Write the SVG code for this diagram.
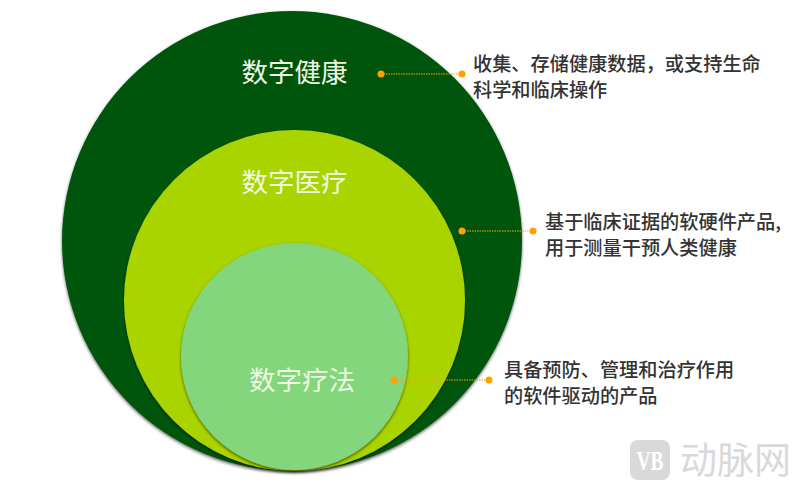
<svg xmlns="http://www.w3.org/2000/svg" width="800" height="490" viewBox="0 0 800 490">
<style>
.t{font-family:"Noto Sans CJK SC","Noto Sans",sans-serif;}
.c{font-size:19.2px;fill:#333;font-weight:500;}
.h{font-size:26.500px;fill:#eef7e2;}
.dot{fill:#ffa200;}
.ln{stroke:#ffa200;stroke-width:1;stroke-dasharray:1.5 1;fill:none;}
</style>
<defs>
<filter id="s" x="-10%" y="-10%" width="120%" height="120%"><feDropShadow dx="0" dy="1.5" stdDeviation="1.8" flood-color="#000" flood-opacity=".6"/></filter>
</defs>
<rect width="800" height="490" fill="#fff"/>
<g id="node-digital-health">
<circle cx="292" cy="241" r="230" fill="#03540b" filter="url(#s)"/>
<text class="t h" x="294.500" y="82" text-anchor="middle">数字健康</text>
</g>
<g id="node-digital-medicine">
<circle cx="294.500" cy="300.500" r="170.500" fill="#aad400" filter="url(#s)"/>
<text class="t h" x="294.500" y="192" text-anchor="middle">数字医疗</text>
</g>
<g id="node-digital-therapeutics">
<circle cx="294.500" cy="356.500" r="113.500" fill="#83d67c" filter="url(#s)"/>
<text class="t h" x="302" y="390" text-anchor="middle">数字疗法</text>
</g>
<g id="connectors">
<line class="ln" x1="381" y1="74" x2="462" y2="74"/>
<circle class="dot" cx="381" cy="74" r="3.500"/><circle class="dot" cx="462" cy="74" r="3.500"/>
<line class="ln" x1="462" y1="231" x2="533" y2="231"/>
<circle class="dot" cx="462" cy="231" r="3.500"/><circle class="dot" cx="533" cy="231" r="3.500"/>
<line class="ln" x1="394" y1="380" x2="489" y2="380"/>
<circle class="dot" cx="394" cy="380" r="3.500"/><circle class="dot" cx="489" cy="380" r="3.500"/>
</g>
<g id="label-health"><text class="t c" x="473" y="71">收集、存储健康数据，或支持生命</text><text class="t c" x="473" y="97">科学和临床操作</text></g>
<g id="label-medicine"><text class="t c" x="545" y="228.500">基于临床证据的软硬件产品,</text><text class="t c" x="545" y="254.500">用于测量干预人类健康</text></g>
<g id="label-therapeutics"><text class="t c" x="504" y="376.500">具备预防、管理和治疗作用</text><text class="t c" x="504" y="402.500">的软件驱动的产品</text></g>
<g id="watermark">
<rect x="630" y="440" width="40" height="40" rx="8" fill="#d9d9d9"/>
<text x="650" y="470" text-anchor="middle" font-family="Liberation Serif,serif" font-weight="bold" font-size="28" fill="#fff" textLength="27" lengthAdjust="spacingAndGlyphs">VB</text>
<text class="t" x="680" y="474" font-size="37" fill="#d9d9d9">动脉网</text>
</g>
</svg>
